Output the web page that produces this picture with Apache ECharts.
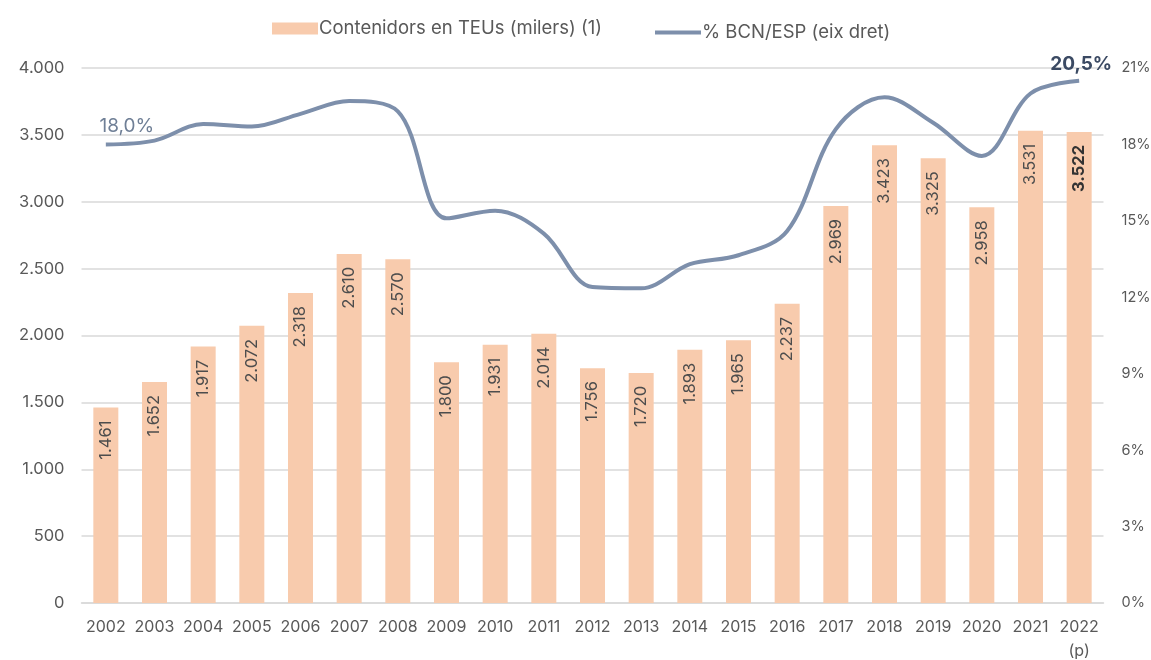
<!DOCTYPE html>
<html>
<head>
<meta charset="utf-8">
<script src="https://cdn.jsdelivr.net/npm/echarts@6/dist/echarts.min.js"></script>
<style>
  html, body { margin: 0; padding: 0; background: #fff; }
  #main { width: 1151px; height: 660px; }
</style>
</head>
<body>
<div id="main"></div>
<script>
var years = ['2002', '2003', '2004', '2005', '2006', '2007', '2008', '2009', '2010', '2011',
  '2012', '2013', '2014', '2015', '2016', '2017', '2018', '2019', '2020', '2021', '2022\n(p)'];
// contenidors en TEUs (milers)
var teus = [1461, 1652, 1917, 2072, 2318, 2610, 2570, 1800, 1931, 2014,
  1756, 1720, 1893, 1965, 2237, 2969, 3423, 3325, 2958, 3531, 3522];
// % BCN/ESP
var share = [18.0, 18.15, 18.8, 18.7, 19.2, 19.7, 19.3, 15.1, 15.4, 14.5,
  12.4, 12.35, 13.3, 13.65, 14.6, 18.6, 19.85, 18.85, 17.55, 20.0, 20.5];
var leftTicks = [0, 4000, 500];
var rightTicks = [0, 21, 3];

var FONT = 'Inter';
var BAR_NAME = 'Contenidors en TEUs (milers) (1)';
var LINE_NAME = '% BCN/ESP (eix dret)';

function miles(v) {
  return String(v).replace(/\B(?=(\d{3})+(?!\d))/g, '.');
}
function pct(v) {
  return v.toFixed(1).replace('.', ',') + '%';
}

var myChart = echarts.init(document.getElementById('main'));
var option;

var barData = teus.map(function (v, i) {
  var item = { value: v };
  if (i === teus.length - 1) {
    item.label = { fontWeight: 'bold', color: '#333' };
  }
  return item;
});

var lineData = share.map(function (v, i) {
  var item = { value: v };
  if (i === 0) {
    item.label = { show: true, offset: [21, -4], color: '#6f7f96', fontSize: 19 };
  } else if (i === share.length - 1) {
    item.label = { show: true, offset: [2, -2], color: '#3b4a63', fontSize: 19, fontWeight: 'bold' };
  }
  return item;
});

var legendText = { fontSize: 18.5, color: '#595959', fontFamily: FONT, padding: [0, 0, 0, -4] };

option = {
  animation: false,
  textStyle: { fontFamily: FONT },
  legend: [
    {
      top: 19,
      left: 272,
      padding: 0,
      itemWidth: 46,
      itemHeight: 12,
      textStyle: legendText,
      data: [{ name: BAR_NAME, icon: 'rect' }]
    },
    {
      top: 23,
      left: 655,
      padding: 0,
      itemWidth: 46,
      itemHeight: 4,
      textStyle: legendText,
      data: [{ name: LINE_NAME, icon: 'rect' }]
    }
  ],
  grid: {
    left: 81.5,
    right: 47.5,
    top: 68,
    bottom: 57,
    outerBoundsMode: 'none'
  },
  xAxis: {
    type: 'category',
    data: years,
    axisTick: { show: false },
    axisLine: { lineStyle: { color: '#d9d9d9', width: 1.5 } },
    axisLabel: { color: '#595959', fontSize: 16, margin: 12, lineHeight: 24, interval: 0 }
  },
  yAxis: [
    {
      type: 'value',
      min: leftTicks[0],
      max: leftTicks[1],
      interval: leftTicks[2],
      axisLabel: { color: '#595959', fontSize: 16.5, margin: 17, formatter: function (v) { return miles(v); } },
      splitLine: { lineStyle: { color: '#d9d9d9', width: 1.5 } },
      axisLine: { show: false },
      axisTick: { show: false }
    },
    {
      type: 'value',
      min: rightTicks[0],
      max: rightTicks[1],
      interval: rightTicks[2],
      axisLabel: { color: '#595959', fontSize: 14.5, margin: 18, formatter: '{value}%' },
      splitLine: { show: false },
      axisLine: { show: false },
      axisTick: { show: false }
    }
  ],
  series: [
    {
      name: BAR_NAME,
      type: 'bar',
      barWidth: 25,
      itemStyle: { color: '#f8cbad' },
      label: {
        show: true,
        position: 'insideTop',
        rotate: 90,
        align: 'right',
        verticalAlign: 'middle',
        distance: 13,
        fontSize: 16.5,
        color: '#4d4d4d',
        formatter: function (p) { return miles(p.value); }
      },
      data: barData
    },
    {
      name: LINE_NAME,
      type: 'line',
      yAxisIndex: 1,
      smooth: 0.35,
      symbol: 'circle',
      symbolSize: 0.1,
      showSymbol: true,
      lineStyle: { color: '#7d8fab', width: 4 },
      itemStyle: { color: '#7d8fab' },
      label: {
        show: false,
        position: 'top',
        fontFamily: FONT,
        formatter: function (p) { return pct(p.value); }
      },
      data: lineData
    }
  ]
};

option && myChart.setOption(option);
</script>
</body>
</html>
